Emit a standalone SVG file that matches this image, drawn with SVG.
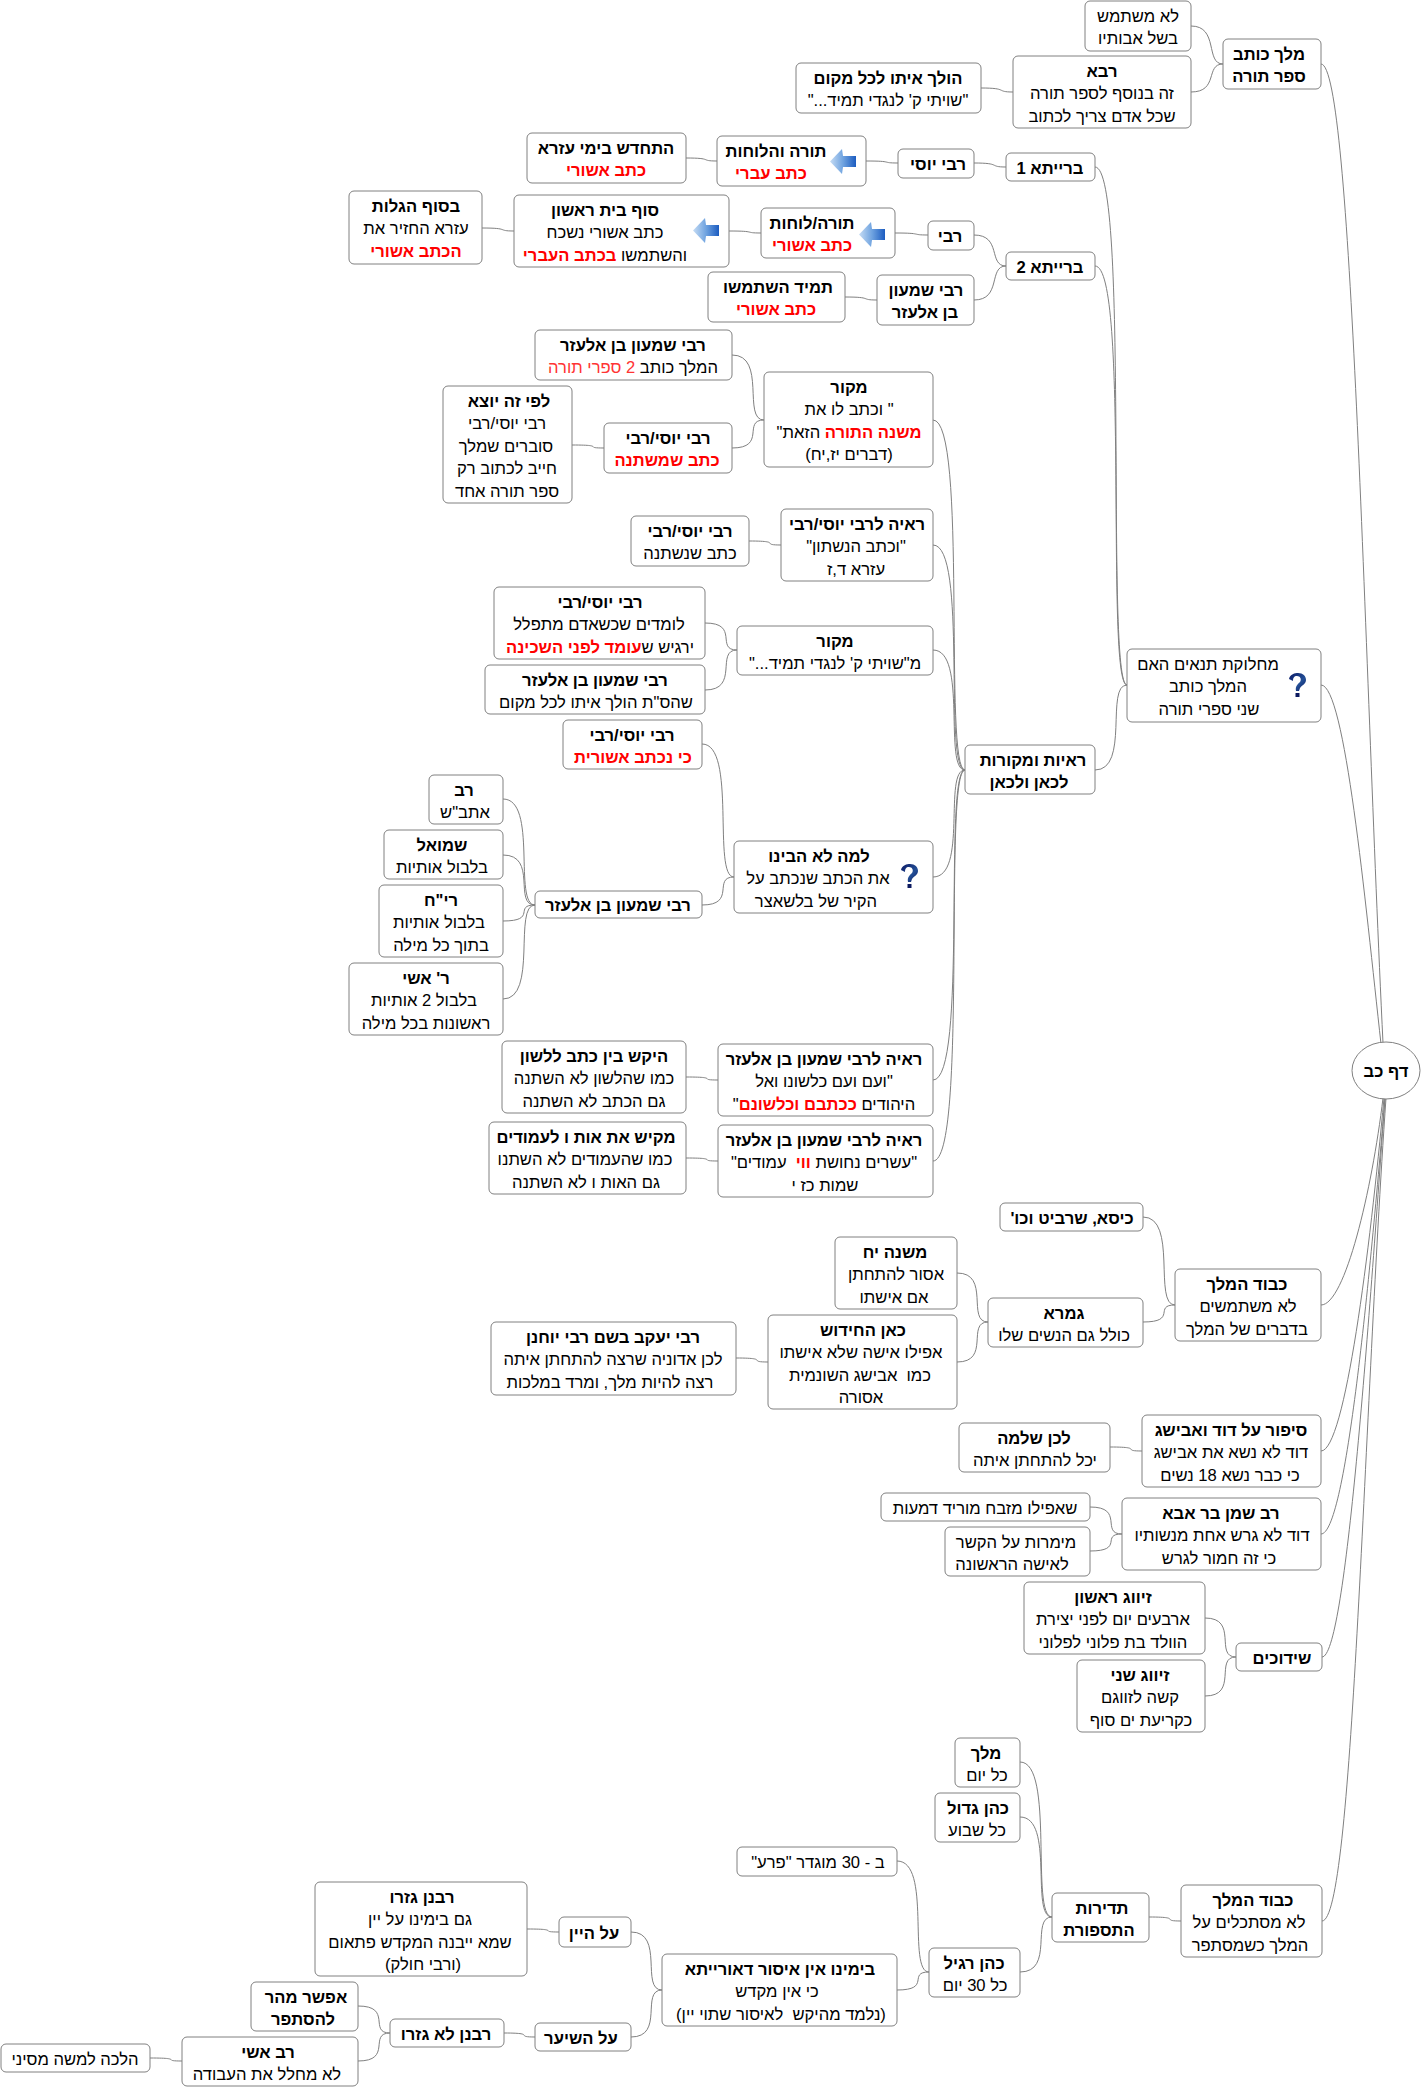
<svg xmlns="http://www.w3.org/2000/svg" width="1421" height="2087" viewBox="0 0 1421 2087">
<style>
text{font-family:"Liberation Sans",Arial,sans-serif;font-size:16.6px;direction:rtl;text-anchor:middle;white-space:pre;fill:#000;transform:translateY(.5px)}
.b{font-weight:bold}
.r{fill:#f00;font-weight:bold}
.l{fill:#f33}
rect,ellipse{fill:#fff;stroke:#808080;stroke-width:1}
#connectors path{fill:none;stroke:#808080;stroke-width:1}
</style>
<defs>
<linearGradient id="ag" x1="0" x2="1" y1="0" y2="0"><stop offset="0" stop-color="#c6dcf4"/><stop offset="0.5" stop-color="#6fa3e0"/><stop offset="1" stop-color="#1c5cc0"/></linearGradient>
<linearGradient id="qg" x1="0" x2="1" y1="0" y2="1"><stop offset="0" stop-color="#0c1a66"/><stop offset="0.6" stop-color="#234f96"/><stop offset="1" stop-color="#0c1a60"/></linearGradient>
<g id="arrow"><path d="M0 12.5 L12 0 L13 7 L26 7 L26 18 L13 18 L12 25 Z" fill="url(#ag)"/></g>
<g id="qm"><path d="M1 6 C2 1 7 0 10 0 C15 0 18 3 18 7 C18 11 14 12 12 15 L11 18 L8 18 C7 13 10 11 12 9 C14 6 12 3 9 3 C6 3 5 5 5 8 Z" fill="url(#qg)"/><rect x="7.500" y="20" width="4" height="4" style="fill:#0c1a60;stroke:none"/></g>
</defs>
<g id="connectors">
<path d="M1191 26C1219 26 1205 64 1223 64"/>
<path d="M1191 92C1219 92 1205 64 1223 64"/>
<path d="M981 88C1009 88 995 92 1013 92"/>
<path d="M686 158C714 158 699 161 717 161"/>
<path d="M866 161C895 161 880 163 898 163"/>
<path d="M974 163C1002 163 988 167 1006 167"/>
<path d="M482 228C511 228 496 231 514 231"/>
<path d="M729 231C758 231 743 233 761 233"/>
<path d="M895 233C924 233 910 235 928 235"/>
<path d="M974 235C1002 235 988 266 1006 266"/>
<path d="M845 297C874 297 859 300 877 300"/>
<path d="M974 300C1002 300 988 266 1006 266"/>
<path d="M1095 167C1130 167 1105 685 1127 685"/>
<path d="M1095 266C1130 266 1105 685 1127 685"/>
<path d="M732 355C767 355 742 420 764 420"/>
<path d="M732 448C767 448 742 420 764 420"/>
<path d="M572 445C607 445 582 448 604 448"/>
<path d="M749 541C784 541 759 545 781 545"/>
<path d="M705 623C740 623 715 650 737 650"/>
<path d="M705 690C740 690 715 650 737 650"/>
<path d="M702 744C737 744 712 877 734 877"/>
<path d="M702 905C737 905 712 877 734 877"/>
<path d="M503 799C538 799 513 905 535 905"/>
<path d="M503 855C538 855 513 905 535 905"/>
<path d="M503 921C538 921 513 905 535 905"/>
<path d="M503 999C538 999 513 905 535 905"/>
<path d="M686 1077C721 1077 696 1080 718 1080"/>
<path d="M686 1158C721 1158 696 1161 718 1161"/>
<path d="M933 420C968 420 943 770 965 770"/>
<path d="M933 545C968 545 943 770 965 770"/>
<path d="M933 650C968 650 943 770 965 770"/>
<path d="M933 877C968 877 943 770 965 770"/>
<path d="M933 1080C968 1080 943 770 965 770"/>
<path d="M933 1161C968 1161 943 770 965 770"/>
<path d="M1095 770C1130 770 1105 685 1127 685"/>
<path d="M1143 1217C1178 1217 1153 1305 1175 1305"/>
<path d="M1143 1322C1178 1322 1153 1305 1175 1305"/>
<path d="M957 1273C991 1273 966 1322 988 1322"/>
<path d="M957 1362C991 1362 966 1322 988 1322"/>
<path d="M736 1358C771 1358 746 1362 768 1362"/>
<path d="M1110 1447C1145 1447 1120 1451 1142 1451"/>
<path d="M1090 1507C1125 1507 1100 1534 1122 1534"/>
<path d="M1090 1551C1125 1551 1100 1534 1122 1534"/>
<path d="M1205 1618C1239 1618 1214 1657 1236 1657"/>
<path d="M1205 1696C1239 1696 1214 1657 1236 1657"/>
<path d="M1020 1762C1055 1762 1030 1917 1052 1917"/>
<path d="M1020 1817C1055 1817 1030 1917 1052 1917"/>
<path d="M1020 1972C1055 1972 1030 1917 1052 1917"/>
<path d="M897 1861C932 1861 907 1972 929 1972"/>
<path d="M897 1990C932 1990 907 1972 929 1972"/>
<path d="M631 1932C665 1932 640 1990 662 1990"/>
<path d="M631 2037C665 2037 640 1990 662 1990"/>
<path d="M527 1929C562 1929 537 1932 559 1932"/>
<path d="M504 2033C538 2033 513 2037 535 2037"/>
<path d="M358 2006C393 2006 368 2033 390 2033"/>
<path d="M358 2061C393 2061 368 2033 390 2033"/>
<path d="M150 2058C185 2058 160 2061 182 2061"/>
<path d="M1149 1917C1184 1917 1159 1921 1181 1921"/>
<path d="M1321 64C1352 64 1364 652 1383 1043"/>
<path d="M1321 685C1345 685 1365 900 1381 1044"/>
<path d="M1321 1305C1345 1305 1372 1190 1383 1098"/>
<path d="M1321 1451C1345 1451 1370 1250 1384 1098"/>
<path d="M1321 1534C1345 1534 1368 1300 1385 1098"/>
<path d="M1322 1657C1345 1657 1367 1350 1385 1098"/>
<path d="M1322 1921C1353 1921 1363 1428 1386 1098"/>
</g>
<g id="n1"><rect x="1085" y="1" width="106" height="50" rx="5"/><text x="1138" y="21">לא משתמש</text><text x="1138" y="43.500">בשל אבותיו</text></g>
<g id="n2"><rect x="1223" y="39" width="98" height="50" rx="5"/><text class="b" x="1269" y="59">מלך כותב</text><text class="b" x="1269" y="81.500">ספר תורה</text></g>
<g id="n3"><rect x="1013" y="56" width="178" height="72" rx="5"/><text class="b" x="1102" y="76">רבא</text><text x="1102" y="98.500">זה בנוסף לספר תורה</text><text x="1102" y="121">שכל אדם צריך לכתוב</text></g>
<g id="n4"><rect x="796" y="63" width="185" height="50" rx="5"/><text class="b" x="888" y="83">הולך איתו לכל מקום</text><text x="888" y="105.500">"שויתי ק' לנגדי תמיד..."</text></g>
<g id="n5"><rect x="1006" y="153" width="89" height="28" rx="5"/><text class="b" x="1050" y="173">ברייתא 1</text></g>
<g id="n6"><rect x="898" y="149" width="76" height="29" rx="5"/><text class="b" x="938" y="169">רבי יוסי</text></g>
<g id="n7"><rect x="717" y="136" width="149" height="50" rx="5"/><text class="b" x="776" y="156">תורה והלוחות</text><text class="r" x="771" y="178.500">כתב עברי</text><use href="#arrow" x="830" y="149"/></g>
<g id="n8"><rect x="527" y="133" width="159" height="50" rx="5"/><text class="b" x="606" y="153">התחדש בימי עזרא</text><text class="r" x="606" y="175.500">כתב אשורי</text></g>
<g id="n9"><rect x="1006" y="252" width="89" height="28" rx="5"/><text class="b" x="1050" y="272">ברייתא 2</text></g>
<g id="n10"><rect x="928" y="221" width="46" height="29" rx="5"/><text class="b" x="950" y="241">רבי</text></g>
<g id="n11"><rect x="877" y="275" width="97" height="50" rx="5"/><text class="b" x="926" y="295">רבי שמעון</text><text class="b" x="925" y="317.500">בן אלעזר</text></g>
<g id="n12"><rect x="708" y="272" width="137" height="50" rx="5"/><text class="b" x="778" y="292">תמיד השתמשו</text><text class="r" x="776" y="314.500">כתב אשורי</text></g>
<g id="n13"><rect x="761" y="208" width="134" height="50" rx="5"/><text class="b" x="812" y="228">תורה/לוחות</text><text class="r" x="812" y="250.500">כתב אשורי</text><use href="#arrow" x="859" y="222"/></g>
<g id="n14"><rect x="514" y="195" width="215" height="72" rx="5"/><text class="b" x="605" y="215">סוף בית ראשון</text><text x="605" y="237.500">כתב אשורי נשכח</text><text x="605" y="260">והשתמשו <tspan class="r">בכתב העברי</tspan></text><use href="#arrow" x="693" y="218"/></g>
<g id="n15"><rect x="349" y="191" width="133" height="73" rx="5"/><text class="b" x="416" y="211">בסוף הגלות</text><text x="416" y="233.500">עזרא החזיר את</text><text class="r" x="416" y="256">הכתב אשורי</text></g>
<g id="n16"><rect x="535" y="330" width="197" height="50" rx="5"/><text class="b" x="633" y="350">רבי שמעון בן אלעזר</text><text x="633" y="372.500">המלך כותב <tspan class="l">2 ספרי תורה</tspan></text></g>
<g id="n17"><rect x="764" y="372" width="169" height="95" rx="5"/><text class="b" x="849" y="392">מקור</text><text x="849" y="414.500">" וכתב לו את</text><text x="849" y="437"><tspan class="r">משנה התורה</tspan> הזאת"</text><text x="849" y="459.500">(דברים יז,יח)</text></g>
<g id="n18"><rect x="443" y="386" width="129" height="117" rx="5"/><text class="b" x="509" y="406">לפי זה יוצא</text><text x="507" y="428.500">רבי יוסי/רבי</text><text x="506" y="451">סוברים שמלך</text><text x="507" y="473.500">חייב לכתוב רק</text><text x="507" y="496">ספר תורה אחד</text></g>
<g id="n19"><rect x="604" y="423" width="128" height="50" rx="5"/><text class="b" x="668" y="443">רבי יוסי/רבי</text><text class="r" x="667" y="465.500">כתב שמשתנה</text></g>
<g id="n20"><rect x="781" y="509" width="152" height="72" rx="5"/><text class="b" x="857" y="529">ראיה לרבי יוסי/רבי</text><text x="856" y="551.500">"וכתב הנשתון"</text><text x="856" y="574">עזרא ד,ז</text></g>
<g id="n21"><rect x="631" y="516" width="118" height="50" rx="5"/><text class="b" x="690" y="536">רבי יוסי/רבי</text><text x="690" y="558.500">כתב שנשתנה</text></g>
<g id="n22"><rect x="494" y="587" width="211" height="72" rx="5"/><text class="b" x="600" y="607">רבי יוסי/רבי</text><text x="599" y="629.500">לומדים שכשאדם מתפלל</text><text x="600" y="652">ירגיש ש<tspan class="r">עומד לפני השכינה</tspan></text></g>
<g id="n23"><rect x="737" y="626" width="196" height="49" rx="5"/><text class="b" x="835" y="646">מקור</text><text x="835" y="668">מ"שויתי ק' לנגדי תמיד..."</text></g>
<g id="n24"><rect x="485" y="665" width="220" height="49" rx="5"/><text class="b" x="595" y="685">רבי שמעון בן אלעזר</text><text x="596" y="707">שהס"ת הולך איתו לכל מקום</text></g>
<g id="n25"><rect x="563" y="720" width="139" height="49" rx="5"/><text class="b" x="632" y="740">רבי יוסי/רבי</text><text class="r" x="633" y="762">כי נכתב אשורית</text></g>
<g id="n26"><rect x="429" y="775" width="74" height="49" rx="5"/><text class="b" x="464" y="795">רב</text><text x="465" y="817">אתב"ש</text></g>
<g id="n27"><rect x="384" y="830" width="119" height="49" rx="5"/><text class="b" x="442" y="850">שמואל</text><text x="442" y="872">בלבול אותיות</text></g>
<g id="n28"><rect x="379" y="885" width="124" height="72" rx="5"/><text class="b" x="441" y="905">רי"ח</text><text x="439" y="927.500">בלבול אותיות</text><text x="441" y="950">בתוך כל מילה</text></g>
<g id="n29"><rect x="349" y="963" width="154" height="72" rx="5"/><text class="b" x="426" y="983">ר' אשי</text><text x="424" y="1005.500">בלבול 2 אותיות</text><text x="426" y="1028">ראשונות בכל מילה</text></g>
<g id="n30"><rect x="535" y="891" width="167" height="27" rx="5"/><text class="b" x="618" y="910">רבי שמעון בן אלעזר</text></g>
<g id="n31"><rect x="734" y="841" width="199" height="72" rx="5"/><text class="b" x="819" y="861">למה לא הבינו</text><text x="818" y="883.500">את הכתב שנכתב על</text><text x="816" y="906">הקיר של בלשאצר</text><use href="#qm" x="900" y="864"/></g>
<g id="n32"><rect x="502" y="1041" width="184" height="72" rx="5"/><text class="b" x="594" y="1061">היקש בין כתב ללשון</text><text x="594" y="1083.500">כמו שהלשון לא השתנה</text><text x="594" y="1106">גם הכתב לא השתנה</text></g>
<g id="n33"><rect x="718" y="1044" width="215" height="72" rx="5"/><text class="b" x="824" y="1064">ראיה לרבי שמעון בן אלעזר</text><text x="824" y="1086.500">"ועם ועם כלשונו ואל</text><text x="824" y="1109">היהודים <tspan class="r">ככתבם וכלשונם</tspan>"</text></g>
<g id="n34"><rect x="489" y="1122" width="197" height="72" rx="5"/><text class="b" x="586" y="1142">מקיש את אות ו לעמודים</text><text x="585" y="1164.500">כמו שהעמודים לא השתנו</text><text x="586" y="1187">גם האות ו לא השתנה</text></g>
<g id="n35"><rect x="718" y="1125" width="215" height="72" rx="5"/><text class="b" x="824" y="1145">ראיה לרבי שמעון בן אלעזר</text><text x="824" y="1167.500">"עשרים נחושת <tspan class="r">ווי</tspan>  עמודים"</text><text x="825" y="1190">שמות כז י</text></g>
<g id="n36"><rect x="1127" y="649" width="194" height="73" rx="5"/><text x="1208" y="669">מחלוקת תנאים האם</text><text x="1208" y="691.500">המלך כותב</text><text x="1209" y="714">שני ספרי תורה</text><use href="#qm" x="1288" y="673"/></g>
<g id="n37"><rect x="965" y="745" width="130" height="49" rx="5"/><text class="b" x="1033" y="765">ראיות ומקורות</text><text class="b" x="1029" y="787">לכאן ולכאן</text></g>
<g id="n38"><ellipse cx="1386" cy="1070.500" rx="34" ry="28.500"/><text class="b" x="1386" y="1076">דף כב</text></g>
<g id="n39"><rect x="1000" y="1203" width="143" height="28" rx="5"/><text class="b" x="1072" y="1223">כיסא, שרביט וכו'</text></g>
<g id="n40"><rect x="1175" y="1269" width="146" height="72" rx="5"/><text class="b" x="1247" y="1289">כבוד המלך</text><text x="1248" y="1311.500">לא משתמשים</text><text x="1247" y="1334">בדברים של המלך</text></g>
<g id="n41"><rect x="835" y="1237" width="122" height="72" rx="5"/><text class="b" x="895" y="1257">משנה יח</text><text x="896" y="1279.500">אסור להתחתן</text><text x="894" y="1302">אם אישתו</text></g>
<g id="n42"><rect x="988" y="1298" width="155" height="49" rx="5"/><text class="b" x="1064" y="1318">גמרא</text><text x="1064" y="1340">כולל גם הנשים שלו</text></g>
<g id="n43"><rect x="768" y="1315" width="189" height="94" rx="5"/><text class="b" x="863" y="1335">כאן החידוש</text><text x="861" y="1357.500">אפילו אישה שלא אישתו</text><text x="860" y="1380">כמו  אבישג השונמית</text><text x="861" y="1402.500">אסורה</text></g>
<g id="n44"><rect x="491" y="1322" width="245" height="73" rx="5"/><text class="b" x="613" y="1342">רבי יעקב בשם רבי יוחנן</text><text x="613" y="1364.500">לכן אדוניה שרצה להתחתן איתה</text><text x="610" y="1387">רצה להיות מלך, ומרד במלכות</text></g>
<g id="n45"><rect x="1142" y="1415" width="179" height="72" rx="5"/><text class="b" x="1231" y="1435">סיפור על דוד ואבישג</text><text x="1231" y="1457.500">דוד לא נשא את אבישג</text><text x="1230" y="1480">כי כבר נשא 18 נשים</text></g>
<g id="n46"><rect x="959" y="1423" width="151" height="49" rx="5"/><text class="b" x="1034" y="1443">לכן שלמה</text><text x="1035" y="1465">יכל להתחתן איתה</text></g>
<g id="n47"><rect x="1122" y="1498" width="199" height="72" rx="5"/><text class="b" x="1221" y="1518">רב שמן בר אבא</text><text x="1222" y="1540.500">דוד לא גרש אחת מנשותיו</text><text x="1219" y="1563">כי זה חמור לגרש</text></g>
<g id="n48"><rect x="881" y="1493" width="209" height="28" rx="5"/><text x="985" y="1513">שאפילו מזבח מוריד דמעות</text></g>
<g id="n49"><rect x="945" y="1527" width="145" height="49" rx="5"/><text x="1016" y="1547">מימרות על הקשר</text><text x="1012" y="1569">לאישה הראשונה</text></g>
<g id="n50"><rect x="1024" y="1582" width="181" height="72" rx="5"/><text class="b" x="1113" y="1602">זיווג ראשון</text><text x="1113" y="1624.500">ארבעים יום לפני יצירת</text><text x="1113" y="1647">הוולד בת פלוני לפלוני</text></g>
<g id="n51"><rect x="1236" y="1643" width="86" height="28" rx="5"/><text class="b" x="1282" y="1663">שידוכים</text></g>
<g id="n52"><rect x="1077" y="1660" width="128" height="72" rx="5"/><text class="b" x="1140" y="1680">זיווג שני</text><text x="1140" y="1702.500">קשה לזווגם</text><text x="1141" y="1725">כקריעת ים סוף</text></g>
<g id="n53"><rect x="955" y="1738" width="65" height="49" rx="5"/><text class="b" x="986" y="1758">מלך</text><text x="987" y="1780">כל יום</text></g>
<g id="n54"><rect x="935" y="1793" width="85" height="49" rx="5"/><text class="b" x="978" y="1813">כהן גדול</text><text x="977" y="1835">כל שבוע</text></g>
<g id="n55"><rect x="1052" y="1893" width="97" height="49" rx="5"/><text class="b" x="1102" y="1913">תדירות</text><text class="b" x="1099" y="1935">התספורת</text></g>
<g id="n56"><rect x="1181" y="1885" width="141" height="72" rx="5"/><text class="b" x="1253" y="1905">כבוד המלך</text><text x="1249" y="1927.500">לא מסתכלים על</text><text x="1250" y="1950">המלך כשמסתפר</text></g>
<g id="n57"><rect x="929" y="1948" width="91" height="49" rx="5"/><text class="b" x="974" y="1968">כהן רגיל</text><text x="975" y="1990">כל 30 יום</text></g>
<g id="n58"><rect x="737" y="1847" width="160" height="29" rx="5"/><text x="818" y="1867">ב - 30 מוגדר "פרע"</text></g>
<g id="n59"><rect x="315" y="1882" width="212" height="94" rx="5"/><text class="b" x="422" y="1902">רבנן גזרו</text><text x="420" y="1924.500">גם בימינו על יין</text><text x="420" y="1947">שמא ייבנה המקדש פתאום</text><text x="423" y="1969.500">(ורבי חולק)</text></g>
<g id="n60"><rect x="559" y="1917" width="72" height="30" rx="5"/><text class="b" x="594" y="1938">על היין</text></g>
<g id="n61"><rect x="662" y="1954" width="235" height="72" rx="5"/><text class="b" x="780" y="1974">בימינו אין איסור דאורייתא</text><text x="777" y="1996.500">כי אין מקדש</text><text x="781" y="2019">(נלמד מהיקש  לאיסור שתוי יין)</text></g>
<g id="n62"><rect x="535" y="2023" width="96" height="28" rx="5"/><text class="b" x="581" y="2043">על השיער</text></g>
<g id="n63"><rect x="390" y="2019" width="114" height="28" rx="5"/><text class="b" x="446" y="2039">רבנן לא גזרו</text></g>
<g id="n64"><rect x="251" y="1982" width="107" height="49" rx="5"/><text class="b" x="306" y="2002">אפשר מהר</text><text class="b" x="303" y="2024">להסתפר</text></g>
<g id="n65"><rect x="182" y="2037" width="176" height="49" rx="5"/><text class="b" x="268" y="2057">רב אשי</text><text x="267" y="2079">לא מחלל את העבודה</text></g>
<g id="n66"><rect x="1" y="2044" width="149" height="28" rx="5"/><text x="75" y="2064">הלכה למשה מסיני</text></g>
</svg>
